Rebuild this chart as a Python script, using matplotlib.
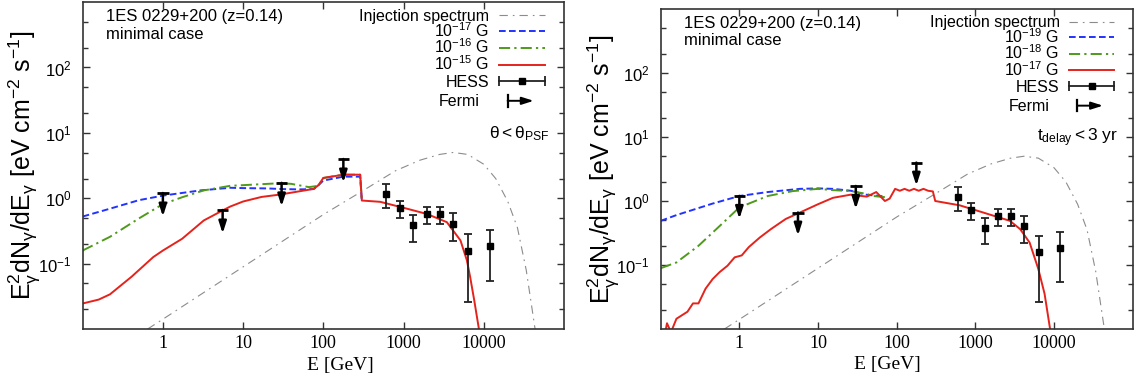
import numpy as np
import matplotlib
matplotlib.use('Agg')
import matplotlib.pyplot as plt
import matplotlib.ticker as ticker

plt.rcParams['font.family'] = ['Liberation Sans', 'DejaVu Sans']
plt.rcParams['mathtext.fontset'] = 'custom'
plt.rcParams['mathtext.rm'] = 'Liberation Sans'
plt.rcParams['mathtext.it'] = 'Liberation Sans:italic'
plt.rcParams['mathtext.bf'] = 'Liberation Sans:bold'
plt.rcParams['lines.scale_dashes'] = False

# ---- data (log10 E [GeV], log10 E^2 dN/dE [eV cm^-2 s^-1]) ----
inj_logE = [-0.19, 0.0, 0.5, 1.0, 1.5, 2.0, 2.5, 2.9, 3.2, 3.45, 3.62, 3.8, 4.0, 4.15, 4.3, 4.42, 4.53, 4.64]
inj_logF = [-2.0, -1.85, -1.45, -1.05, -0.65, -0.25, 0.12, 0.42, 0.58, 0.67, 0.70, 0.67, 0.52, 0.30, -0.05, -0.45, -1.1, -2.0]

# left panel: theta < theta_PSF
L_blue_logE = [-1.0, -0.66, -0.3, 0.0, 0.47, 0.84, 1.0, 1.3, 1.5, 1.7, 1.88, 1.94, 2.0, 2.25, 2.46, 2.48]
L_blue_logF = [-0.28, -0.16, -0.03, 0.04, 0.12, 0.16, 0.155, 0.15, 0.14, 0.135, 0.14, 0.2, 0.27, 0.33, 0.33, -0.035]
L_green_logE = [-1.0, -0.66, -0.30, 0.0, 0.24, 0.51, 0.84, 1.0, 1.46, 1.6, 1.82, 1.94, 2.0, 2.25, 2.46, 2.48]
L_green_logF = [-0.80, -0.59, -0.31, -0.09, 0.015, 0.12, 0.19, 0.20, 0.23, 0.22, 0.17, 0.19, 0.31, 0.36, 0.36, -0.035]
L_red_logE = [-1.0, -0.8, -0.66, -0.39, -0.12, 0.0, 0.24, 0.51, 0.74, 0.84, 1.0, 1.23, 1.46, 1.88, 1.94,
              2.0, 2.25, 2.46, 2.48, 2.71, 3.0, 3.29, 3.54, 3.71, 3.79, 3.83, 3.88, 3.94]
L_red_logF = [-1.61, -1.55, -1.47, -1.2, -0.90, -0.80, -0.62, -0.34, -0.19, -0.127, -0.05, 0.02, 0.056, 0.143, 0.2,
              0.31, 0.36, 0.36, -0.035, -0.055, -0.146, -0.24, -0.366, -0.645, -0.95, -1.2, -1.55, -2.0]

# right panel: t_delay < 3 yr
R_blue_logE = [-1.0, -0.80, -0.34, 0.0, 0.36, 0.77, 1.0, 1.19, 1.42, 1.6, 1.79, 1.85]
R_blue_logF = [-0.31, -0.22, -0.04, 0.078, 0.14, 0.19, 0.197, 0.19, 0.16, 0.10, 0.078, 0.07]
R_green_logE = [-1.0, -0.80, -0.52, -0.25, 0.0, 0.36, 0.68, 1.0, 1.19, 1.42, 1.62, 1.70, 1.85]
R_green_logF = [-1.05, -0.96, -0.70, -0.39, -0.10, 0.078, 0.155, 0.19, 0.17, 0.155, 0.11, 0.078, 0.06]
R_red_logE = [-0.95, -0.92, -0.87, -0.80, -0.66, -0.59, -0.52, -0.43, -0.34, -0.25, -0.2, -0.15, -0.06, 0.03,
              0.12, 0.26, 0.40, 0.59, 0.77, 1.0, 1.19, 1.42, 1.62, 1.74, 1.85, 1.91, 1.98, 2.04, 2.1, 2.16,
              2.22, 2.28, 2.34, 2.40, 2.46, 2.49, 2.80, 3.10, 3.44, 3.57, 3.69, 3.80, 3.88, 3.95]
R_red_logF = [-2.1, -1.91, -2.05, -1.84, -1.73, -1.60, -1.60, -1.37, -1.22, -1.11, -1.06, -1.01, -0.88, -0.85,
              -0.72, -0.57, -0.44, -0.28, -0.18, -0.05, 0.05, 0.1, 0.068, 0.14, 0.0, 0.037, 0.19, 0.16, 0.19, 0.16,
              0.19, 0.16, 0.19, 0.16, 0.15, 0.0, -0.067, -0.18, -0.31, -0.44, -0.65, -1.06, -1.45, -2.0]

# HESS points
hess_logE = [2.785, 2.95, 3.12, 3.29, 3.45, 3.62, 3.81, 4.08]
hess_logF = [0.067, -0.146, -0.416, -0.24, -0.24, -0.39, -0.80, -0.73]
hess_logHi = [0.22, -0.035, -0.26, -0.127, -0.127, -0.23, -0.54, -0.49]
hess_logLo = [-0.15, -0.30, -0.67, -0.39, -0.39, -0.655, -1.585, -1.27]

# Fermi upper limits
fermi_logE = [0.0, 0.745, 1.48, 2.25]
fermi_logF = [0.08, -0.18, 0.235, 0.60]

left_labels = [r'$\mathregular{10^{-17}}$ G', r'$\mathregular{10^{-16}}$ G', r'$\mathregular{10^{-15}}$ G']
right_labels = [r'$\mathregular{10^{-19}}$ G', r'$\mathregular{10^{-18}}$ G', r'$\mathregular{10^{-17}}$ G']

xtick_vals = [1, 10, 100, 1000, 10000]
xtick_labels = ['1', '10', '100', '1000', '10000']

# styles
blue_style = dict(color='#2233ff', lw=1.4, dashes=(4.8, 2.4))
green_style = dict(color='#4f9a1c', lw=1.4, dashes=(8, 3, 1.6, 3))
red_style = dict(color='#e5221b', lw=1.4)
gray_style = dict(color='#8c8c8c', lw=0.8, dashes=(6, 3.6, 1.2, 3.6))
ARROW_DEC = 0.36
CAP_DEC = 0.073
LEG_FS = 11.5


def p(v):
    return 10 ** np.asarray(v, dtype=float)


def draw_panel(ax, curves, labels, note, xlab_x):
    ax.set_xscale('log')
    ax.set_yscale('log')
    ax.set_xlim(0.1, 1e5)
    ax.set_ylim(0.01, 1000)

    ax.plot(p(inj_logE), p(inj_logF), **gray_style)
    (bE, bF), (gE, gF), (rE, rF) = curves
    ax.plot(p(bE), p(bF), **blue_style)
    ax.plot(p(gE), p(gF), **green_style)
    ax.plot(p(rE), p(rF), **red_style)

    hx = p(hess_logE)
    hy = p(hess_logF)
    yerr = [hy - p(hess_logLo), p(hess_logHi) - hy]
    ax.errorbar(hx, hy, yerr=yerr, fmt='s', ms=5, mfc='black', mec='black',
                ecolor='#222222', elinewidth=1.3, capsize=3, capthick=1.3, zorder=5)

    for le, lf in zip(fermi_logE, fermi_logF):
        ax.plot([10 ** (le - CAP_DEC), 10 ** (le + CAP_DEC)], [10 ** lf, 10 ** lf],
                color='black', lw=2, solid_capstyle='butt', zorder=6)
        ax.annotate('', xy=(10 ** le, 10 ** (lf - ARROW_DEC)), xytext=(10 ** le, 10 ** lf),
                    arrowprops=dict(arrowstyle='-|>,head_length=0.5,head_width=0.16',
                                    lw=1.8, color='black', shrinkA=0, shrinkB=0,
                                    mutation_scale=14), zorder=6)

    # ticks
    ax.set_xticks(xtick_vals, labels=xtick_labels)
    ax.xaxis.set_minor_locator(ticker.NullLocator())
    ax.set_yticks([0.1, 1, 10, 100])
    ax.yaxis.set_major_formatter(ticker.LogFormatterSciNotation())
    ax.yaxis.set_minor_locator(ticker.LogLocator(base=10, subs=(2.0, 5.0), numticks=20))
    ax.yaxis.set_minor_formatter(ticker.NullFormatter())
    ax.tick_params(axis='both', which='both', direction='in', top=True, right=True,
                   color='#333333')
    ax.tick_params(axis='both', which='major', length=5, width=1)
    ax.tick_params(axis='y', which='minor', length=3.5, width=1)
    ax.tick_params(axis='x', which='major', labelsize=13, pad=4, labelfontfamily='Liberation Serif')
    ax.tick_params(axis='y', which='major', labelsize=12, pad=8)
    for s in ax.spines.values():
        s.set_linewidth(1.2)
        s.set_color('#333333')

    ax.set_xlabel('E [GeV]', fontsize=14, family='Liberation Serif')
    ax.xaxis.set_label_coords(xlab_x, -0.085)
    ax.set_ylabel(r'$\mathregular{E_{\gamma}^{2}dN_{\gamma}/dE_{\gamma}\ [eV\ cm^{-2}\ s^{-1}]}$', fontsize=18)
    ax.yaxis.set_label_coords(-0.085, 0.5)

    ax.text(0.049, 0.955, '1ES 0229+200 (z=0.14)', transform=ax.transAxes,
            fontsize=12, ha='left', va='center')
    ax.text(0.049, 0.901, 'minimal case', transform=ax.transAxes,
            fontsize=12, ha='left', va='center')
    ax.text(0.97, 0.598, note, transform=ax.transAxes, ha='right', va='center', fontsize=12.5)

    # legend, gnuplot style: text right-aligned, sample on the right
    tx, x0, x1 = 0.845, 0.866, 0.96
    rows = [0.96, 0.911, 0.860, 0.809, 0.758, 0.698]
    off = 0.017
    entries = [('Injection spectrum', gray_style), (labels[0], blue_style),
               (labels[1], green_style), (labels[2], red_style)]
    for (lab, st), y in zip(entries, rows[:4]):
        ax.plot([x0, x1], [y, y], transform=ax.transAxes, clip_on=False, **st)
        ax.text(tx, y - off, lab, transform=ax.transAxes, ha='right', va='baseline', fontsize=LEG_FS)
    y = rows[4]
    ax.plot([x0, x1], [y, y], transform=ax.transAxes, color='#222222', lw=1.3)
    ax.plot([x0, x1], [y, y], transform=ax.transAxes, ls='none', marker='|', ms=7,
            mew=1.3, color='#222222')
    ax.plot([(x0 + x1) / 2], [y], transform=ax.transAxes, marker='s', ms=5, color='black')
    ax.text(tx, y - off, 'HESS', transform=ax.transAxes, ha='right', va='baseline', fontsize=LEG_FS)
    y = rows[5]
    ax.plot([0.883, 0.883], [y - 0.018, y + 0.018], transform=ax.transAxes, color='black', lw=1.6)
    ax.annotate('', xy=(0.937, y), xytext=(0.883, y), xycoords='axes fraction',
                arrowprops=dict(arrowstyle='-|>,head_length=0.5,head_width=0.16',
                                lw=1.4, color='black', shrinkA=0, shrinkB=0, mutation_scale=14))
    ax.text(tx - 0.02, y - off, 'Fermi', transform=ax.transAxes, ha='right', va='baseline', fontsize=LEG_FS)


fig = plt.figure(figsize=(11.37, 3.92), dpi=100)
ax1 = fig.add_axes([0.0727, 0.1607, 0.4233, 0.834])
ax2 = fig.add_axes([0.5811, 0.1607, 0.4151, 0.8163])

draw_panel(ax1, [(L_blue_logE, L_blue_logF), (L_green_logE, L_green_logF), (L_red_logE, L_red_logF)],
           left_labels, r'$\mathregular{\theta < \theta_{PSF}}$', 0.535)
draw_panel(ax2, [(R_blue_logE, R_blue_logF), (R_green_logE, R_green_logF), (R_red_logE, R_red_logF)],
           right_labels, r'$\mathregular{t_{delay} < 3\ yr}$', 0.48)

fig.savefig('out.png', dpi=100)
